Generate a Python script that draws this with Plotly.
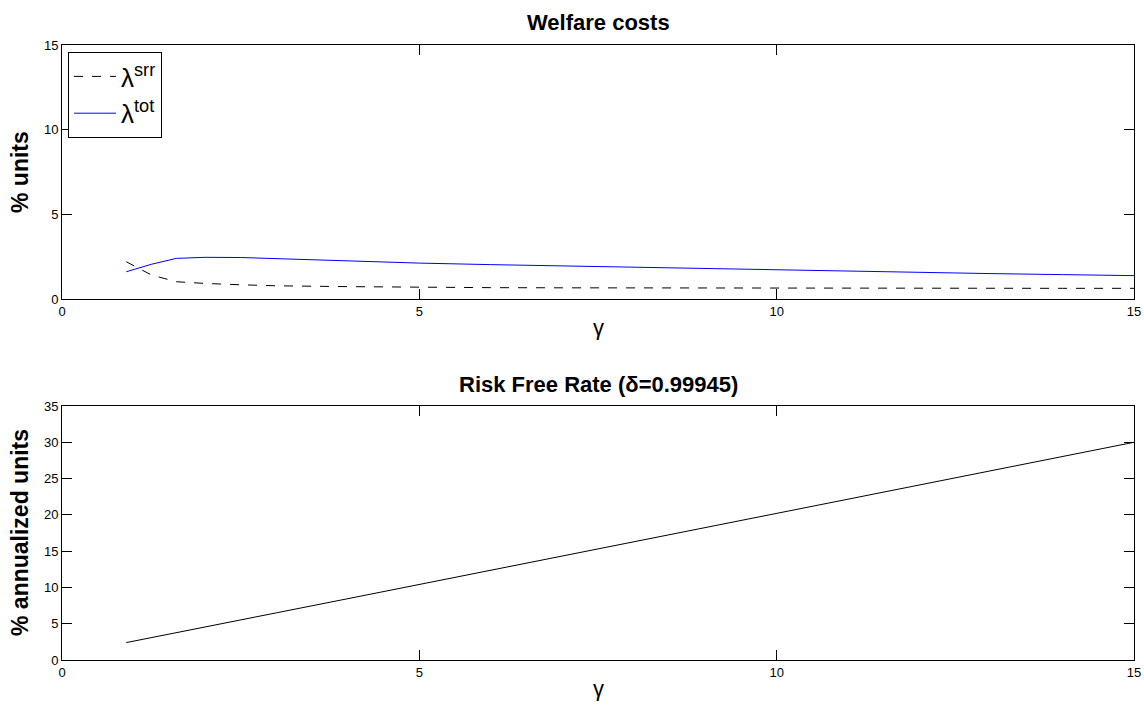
import plotly.graph_objects as go

# Data
gamma = [0.9, 1.25, 1.6, 2, 2.5, 3, 4, 5, 6, 7, 8, 9, 10, 11, 12, 13, 14, 15]
lam_srr = [2.20, 1.42, 1.02, 0.92, 0.84, 0.78, 0.73, 0.69, 0.67, 0.66, 0.65, 0.65, 0.64, 0.64, 0.64, 0.63, 0.63, 0.63]
lam_tot = [1.61, 2.05, 2.40, 2.46, 2.45, 2.38, 2.25, 2.12, 2.03, 1.95, 1.86, 1.78, 1.70, 1.63, 1.56, 1.50, 1.44, 1.38]
rf = [2.4, 3.1, 3.8, 4.55, 5.55, 6.5, 8.45, 10.4, 12.4, 14.35, 16.3, 18.25, 20.2, 22.15, 24.1, 26.1, 28.05, 30.0]

x_ticks = [0, 5, 10, 15]
y1_ticks = [0, 5, 10, 15]
y2_ticks = [0, 5, 10, 15, 20, 25, 30, 35]

FONT = "Liberation Sans, Arial, Helvetica, sans-serif"
H = 708.0

def py(pix):
    return (H - pix) / H

fig = go.Figure()
fig.add_trace(go.Scatter(x=gamma, y=lam_srr, mode="lines", name="λ<sup>srr</sup>",
                         line=dict(color="black", width=1, dash="dash"),
                         xaxis="x", yaxis="y"))
fig.add_trace(go.Scatter(x=gamma, y=lam_tot, mode="lines", name="λ<sup>tot</sup>",
                         line=dict(color="#0000ff", width=1),
                         xaxis="x", yaxis="y"))
fig.add_trace(go.Scatter(x=gamma, y=rf, mode="lines", name="rf", showlegend=False,
                         line=dict(color="black", width=1),
                         xaxis="x2", yaxis="y2"))

axis_common = dict(showline=True, linecolor="black", linewidth=1, mirror="ticks",
                   ticks="inside", ticklen=10, tickwidth=1, tickcolor="black",
                   showgrid=False, zeroline=False,
                   tickfont=dict(family=FONT, size=13, color="black"))

fig.update_layout(
    width=1144, height=708,
    margin=dict(l=62, r=10, t=0, b=0, autoexpand=False),
    paper_bgcolor="white", plot_bgcolor="white",
    font=dict(family=FONT, color="black"),
    xaxis=dict(domain=[0, 1], anchor="y", range=[0, 15], tickvals=x_ticks, **axis_common),
    yaxis=dict(domain=[py(299), py(45)], anchor="x", range=[0, 15], tickvals=y1_ticks, **axis_common),
    xaxis2=dict(domain=[0, 1], anchor="y2", range=[0, 15], tickvals=x_ticks, **axis_common),
    yaxis2=dict(domain=[py(660), py(406)], anchor="x2", range=[0, 35], tickvals=y2_ticks, **axis_common),
    legend=dict(x=(68 - 62) / 1072, y=py(52), xanchor="left", yanchor="top",
                bordercolor="black", borderwidth=1, bgcolor="white",
                font=dict(family=FONT, size=26, color="black"),
                itemwidth=42, tracegroupgap=0),
    showlegend=True,
)

ann = [
    dict(text="<b>Welfare costs</b>", x=0.5, y=py(23), font=dict(size=22)),
    dict(text="<b>Risk Free Rate (δ=0.99945)</b>", x=0.5, y=py(385), font=dict(size=22)),
    dict(text="γ", x=0.5, y=py(327), font=dict(size=22)),
    dict(text="γ", x=0.5, y=py(688), font=dict(size=22)),
    dict(text="<b>% units</b>", x=(20 - 62) / 1072, y=py(172), textangle=-90, font=dict(size=23)),
    dict(text="<b>% annualized units</b>", x=(20 - 62) / 1072, y=py(533), textangle=-90, font=dict(size=23)),
]
for a in ann:
    fig.add_annotation(xref="paper", yref="paper", showarrow=False,
                       xanchor="center", yanchor="middle",
                       text=a["text"], x=a["x"], y=a["y"], textangle=a.get("textangle", 0),
                       font=dict(family=FONT, color="black", size=a["font"]["size"]))

fig.write_html("out.html")
